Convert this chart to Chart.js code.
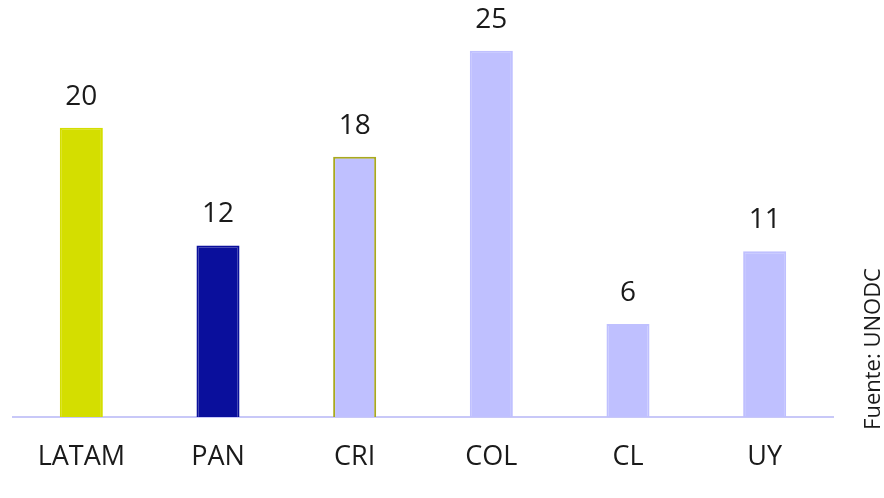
<!DOCTYPE html>
<html>
<head>
<meta charset="utf-8">
<script src="https://cdn.jsdelivr.net/npm/chart.js@4.4.0/dist/chart.umd.min.js"></script>
<style>
  html, body { margin: 0; padding: 0; background: #fff; }
  #wrap { width: 884px; height: 498px; position: relative; }
</style>
</head>
<body>
<div id="wrap"><canvas id="tasaChart"></canvas></div>
<script>
const paises = ['LATAM', 'PAN', 'CRI', 'COL', 'CL', 'UY'];
const tasas = [19.9, 11.8, 17.9, 25.2, 6.4, 11.4];
const etiquetas = ['20', '12', '18', '25', '6', '11'];
const colores = ['#d4de00', '#0a0f9c', '#bfc0ff', '#bfc0ff', '#bfc0ff', '#bfc0ff'];
const bordes = ['#d4de00', '#0a0f9c', '#a9a91e', '#bfc0ff', '#bfc0ff', '#bfc0ff'];
const fuente = 'Fuente: UNODC';

const FONT = '"Open Sans", "Noto Sans", sans-serif';

// etiquetas de valor encima de cada barra + fuente vertical
const labelsPlugin = {
    id: 'labelsPlugin',
    afterDatasetsDraw(chart) {
        const ctx = chart.ctx;
        const meta = chart.getDatasetMeta(0);
        ctx.save();
        ctx.font = '28px ' + FONT;
        ctx.fillStyle = '#1a1a1a';
        ctx.textAlign = 'center';
        ctx.textBaseline = 'middle';
        meta.data.forEach((bar, i) => {
            ctx.fillText(etiquetas[i], bar.x, bar.y - 31);
        });
        ctx.restore();

        ctx.save();
        ctx.translate(874, 349);
        ctx.rotate(-Math.PI / 2);
        ctx.font = '22px ' + FONT;
        ctx.fillStyle = '#1a1a1a';
        ctx.textAlign = 'center';
        ctx.textBaseline = 'middle';
        ctx.fillText(fuente, 0, 0);
        ctx.restore();
    }
};

new Chart(document.getElementById('tasaChart').getContext('2d'), {
    type: 'bar',
    data: {
        labels: paises,
        datasets: [{
            data: tasas,
            backgroundColor: colores,
            borderColor: bordes,
            borderWidth: 2,
            borderSkipped: 'bottom',
            categoryPercentage: 1,
            barPercentage: 0.315
        }]
    },
    options: {
        responsive: true,
        maintainAspectRatio: false,
        animation: false,
        layout: { padding: { left: 13, right: 51, top: 10, bottom: 0 } },
        plugins: { legend: { display: false }, tooltip: { enabled: false } },
        scales: {
            x: {
                grid: { display: false, drawTicks: false },
                border: { display: true, color: '#c8c8f8', width: 2 },
                ticks: { color: '#1a1a1a', font: { family: FONT, size: 27, lineHeight: 1 }, padding: 27 }
            },
            y: {
                display: false,
                min: 0,
                max: 28
            }
        }
    },
    plugins: [labelsPlugin]
});
</script>
</body>
</html>
